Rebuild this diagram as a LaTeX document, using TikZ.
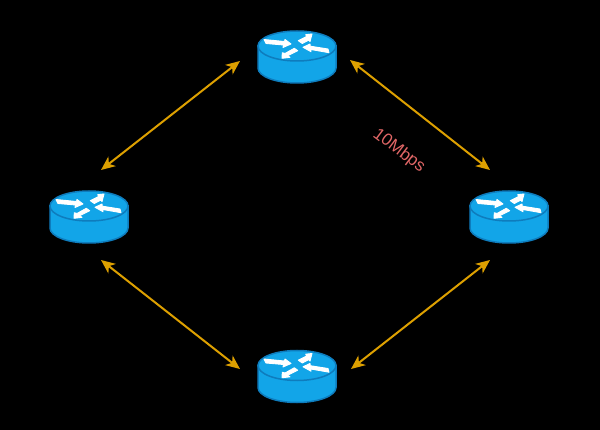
\documentclass[tikz,border=0pt]{standalone}
\usepackage{fontspec}
\setmainfont{Liberation Sans}
\usetikzlibrary{arrows.meta,calc}
\definecolor{routerblue}{HTML}{12A5E8}
\definecolor{routeredge}{HTML}{0E7CBD}
\definecolor{linkgold}{HTML}{DDA000}
\definecolor{ratered}{HTML}{E06666}
\tikzset{
    routerbox/.style={minimum width=78pt,minimum height=53pt,inner sep=0pt},
    iconarrow/.style={fill=white,draw=white,line width=0.9pt,line join=round},
    link/.style={linkgold,line width=2pt,{Stealth[length=14pt,width=12pt,inset=4pt]}-{Stealth[length=14pt,width=12pt,inset=4pt]}},
    pics/routericon/.style={code={
        \draw[routeredge,line width=1.5pt,fill=routerblue] (-39,-10)--(-39,12) arc [start angle=180, end angle=0, x radius=39, y radius=15]--(39,-10)--cycle;
        \draw[routeredge,line width=1.5pt,fill=routerblue] (0,-10) ellipse [x radius=39, y radius=15];
        \path[iconarrow] (-33,-16.5)--(-12.5,-14.5)--(-12,-16.5)--(-6,-12)--(-14,-8.5)--(-13.5,-11)--(-31,-12.5)--cycle;
        \path[iconarrow] (1.3,-15.3)--(9.7,-19.5)--(8.7,-21.3)--(15,-22)--(13,-14.3)--(12,-16)--(5.3,-12.5)--cycle;
        \path[iconarrow] (31,-7)--(13.3,-9.8)--(13,-12)--(6,-8.7)--(14,-4.3)--(13.8,-6.5)--(32,-3.3)--cycle;
        \path[iconarrow] (-2.7,-7.7)--(-12,-2.5)--(-14.7,-3.3)--(-15,2.3)--(-7,1.3)--(-9.5,-0.2)--(0.7,-5.3)--cycle;
    }}
}
\begin{document}
\begin{tikzpicture}[x=1pt,y=-1pt]
    \useasboundingbox (0,0) rectangle (600,430);
    \fill[black] (0,0) rectangle (600,430);
    \node[routerbox] (rtop) at (297,56) {};
    \node[routerbox] (rleft) at (89,216) {};
    \node[routerbox] (rright) at (509,216) {};
    \node[routerbox] (rbottom) at (297,375.5) {};
    \foreach \r in {rtop,rleft,rright,rbottom}
        \pic at (\r) {routericon};
    \draw[link] ($(rtop)+(-57,5)$)--($(rleft)+(12,-46)$);
    \draw[link] ($(rtop)+(53,4)$)--($(rright)+(-19,-46)$);
    \draw[link] ($(rleft)+(12,44)$)--($(rbottom)+(-57,-6.5)$);
    \draw[link] ($(rright)+(-19,44)$)--($(rbottom)+(54,-6.5)$);
    \node[ratered,rotate=-37,font=\fontsize{17}{17}\selectfont] (rate) at (399,151) {10Mbps};
\end{tikzpicture}
\end{document}
